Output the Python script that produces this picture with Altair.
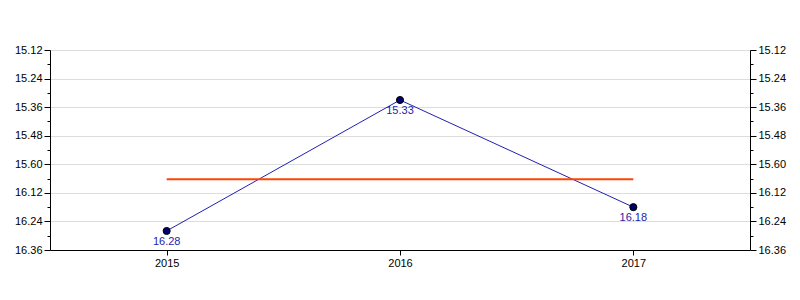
import altair as alt
import pandas as pd

years = ["2015", "2016", "2017"]
values = [15.88, 15.33, 15.78]
value_labels = ["16.28", "15.33", "16.18"]

tick_values = [15.12, 15.18, 15.24, 15.30, 15.36, 15.42, 15.48, 15.54,
               15.60, 15.66, 15.72, 15.78, 15.84, 15.90, 15.96]
major_values = [15.12, 15.24, 15.36, 15.48, 15.60, 15.72, 15.84, 15.96]
major_labels = ["15.12", "15.24", "15.36", "15.48", "15.60", "16.12", "16.24", "16.36"]

df = pd.DataFrame({"year": years, "value": values, "label": value_labels})

label_expr = "".join(
    f"abs(datum.value - {v}) < 0.001 ? '{l}' : " for v, l in zip(major_values, major_labels)
) + "''"
major_test = " || ".join(f"abs(datum.value - {v}) < 0.001" for v in major_values)

FONT = "Liberation Sans"
domain = [min(tick_values), max(tick_values)]

x_enc = alt.X("year:N", scale=alt.Scale(type="point", padding=0.5),
              axis=alt.Axis(title=None, labelAngle=0, tickSize=5, labelFont=FONT,
                            labelFontSize=11, labelColor="black", domainColor="black",
                            tickColor="black", grid=False, labelPadding=2))

def y_axis(orient, grid):
    return alt.Axis(
        orient=orient, title=None, values=tick_values, labelExpr=label_expr,
        grid=grid,
        gridColor={"condition": {"test": major_test, "value": "#dddddd"}, "value": "transparent"},
        tickSize={"condition": {"test": major_test, "value": 6}, "value": 3},
        tickColor="black", domainColor="black", labelFont=FONT, labelFontSize=11,
        labelColor="black", labelPadding=2, labelFlush=False, labelOverlap=False,
    )

def y_scale():
    return alt.Scale(domain=domain, reverse=True, zero=False, nice=False)

y_left = alt.Y("value:Q", scale=y_scale(), axis=y_axis("left", True))

base = alt.Chart(df)

mean_line = base.transform_joinaggregate(mean_value="mean(value)").mark_line(
    color="#ff4500", strokeWidth=2
).encode(x=x_enc, y=alt.Y("mean_value:Q", scale=y_scale(), axis=y_axis("left", True)))

line = base.mark_line(color="#2020b0", strokeWidth=1).encode(x=x_enc, y=y_left)
points = base.mark_point(filled=True, size=50, color="#000070", stroke="black",
                         strokeWidth=1, opacity=1).encode(x=x_enc, y=y_left)
text = base.mark_text(dy=11, color="#2424a8", font=FONT, fontSize=11).encode(
    x=x_enc, y=y_left, text="label:N")

left = alt.layer(line, mean_line, points, text)

right = base.mark_point(opacity=0).encode(
    x=x_enc,
    y=alt.Y("value:Q", scale=y_scale(), axis=y_axis("right", False)))

chart = alt.layer(left, right).resolve_scale(y="independent").properties(
    width=700, height=200,
    padding={"left": 50, "top": 50, "right": 50, "bottom": 50},
    autosize=alt.AutoSizeParams(type="none"),
).configure_view(stroke="black", strokeWidth=1).configure(background="white")

chart.save("out.html", embed_options={"renderer": "svg", "actions": False})
